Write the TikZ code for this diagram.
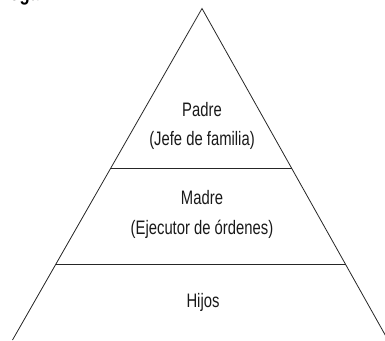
\documentclass[tikz,border=0pt]{standalone}
\usepackage{fontspec}
\setmainfont{Liberation Sans}
\usetikzlibrary{calc}
\tikzset{
  edge/.style={draw=black!85, line width=0.8pt},
  lbl/.style={inner sep=0pt, font=\fontsize{19.5}{23}\selectfont, xscale=0.76, text=black!90},
}
\begin{document}
\begin{tikzpicture}[x=1pt,y=1pt]
\useasboundingbox (0,0) rectangle (385,340);
\clip (0,0) rectangle (385,340);
% image y downward -> tikz y = 340 - y
\coordinate (A) at (202,331.5);
\coordinate (BL) at (12.5,0);
\coordinate (BR) at (388,0);
\coordinate (L1) at ($(A)!0.482!(BL)$);
\coordinate (R1) at ($(A)!0.482!(BR)$);
\coordinate (L2) at ($(A)!0.7717!(BL)$);
\coordinate (R2) at ($(A)!0.7717!(BR)$);
\draw[edge] (BL) -- (A) -- (BR);
\draw[edge] (L1) -- (R1);
\draw[edge] (L2) -- (R2);
% clipped text fragment at the top
\node[lbl, anchor=base west, text=black, font=\fontsize{22}{26}\selectfont\bfseries] (frag) at (-1,339) {hogar.};
\node[lbl, anchor=base] (padre) at (202,223) {Padre};
\node[lbl, anchor=base] (jefe) at (202,194) {(Jefe de familia)};
\node[lbl, anchor=base] (madre) at (202,135) {Madre};
\node[lbl, anchor=base] (ejec) at (202,106) {(Ejecutor de órdenes)};
\node[lbl, anchor=base] (hijos) at (203,33) {Hijos};
\end{tikzpicture}
\end{document}
